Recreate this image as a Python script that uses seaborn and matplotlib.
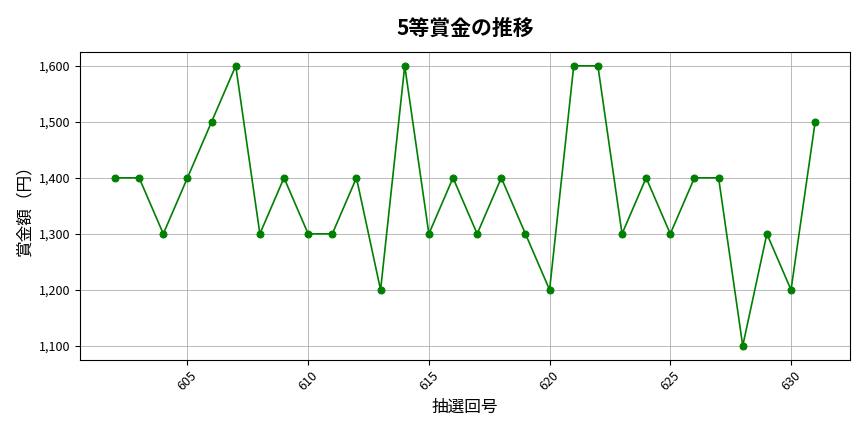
import matplotlib
matplotlib.use("Agg")
import matplotlib.pyplot as plt
import seaborn as sns
import pandas as pd

draws = list(range(602, 632))
prizes = [1400, 1400, 1300, 1400, 1500, 1600, 1300, 1400, 1300, 1300,
          1400, 1200, 1600, 1300, 1400, 1300, 1400, 1300, 1200, 1600,
          1600, 1300, 1400, 1300, 1400, 1400, 1100, 1300, 1200, 1500]

df = pd.DataFrame({"draw": draws, "prize": prizes})

plt.rcParams['font.family'] = ['Noto Sans CJK JP', 'DejaVu Sans']

fig, ax = plt.subplots(figsize=(8.64, 4.32), dpi=100)
sns.lineplot(data=df, x="draw", y="prize", ax=ax, color="green", marker="o",
             markersize=5, markeredgecolor="green", linewidth=1.2)
ax.set_title("5等賞金の推移", fontsize=15, fontweight="bold", pad=12)
ax.set_xlabel("抽選回号", fontsize=12)
ax.set_ylabel("賞金額（円）", fontsize=12)
ax.grid(True, color="#b0b0b0", linewidth=0.6)
ax.yaxis.set_major_formatter(matplotlib.ticker.FuncFormatter(lambda v, p: f"{int(v):,}"))
ax.tick_params(axis='x', rotation=45, labelsize=9)
ax.tick_params(axis='y', labelsize=9)
fig.subplots_adjust(left=0.0926, right=0.984, top=0.880, bottom=0.167)
fig.savefig("out.png")
